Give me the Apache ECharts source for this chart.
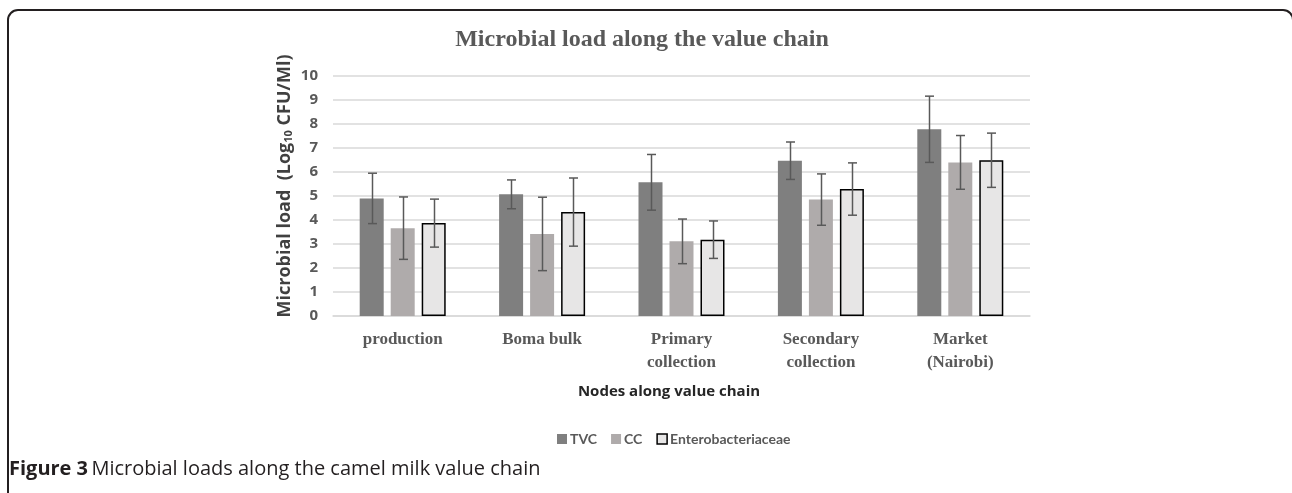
<!DOCTYPE html>
<html>
<head>
<meta charset="utf-8">
<script src="https://cdn.jsdelivr.net/npm/echarts@6/dist/echarts.min.js"></script>
<style>
  html, body { margin: 0; padding: 0; background: #fff; }
  #chart { width: 1292px; height: 493px; }
</style>
</head>
<body>
<div id="chart"></div>
<script>
// nodes along the value chain
const categories = ['production', 'Boma bulk', 'Primary\ncollection', 'Secondary\ncollection', 'Market\n(Nairobi)'];
// means (log10 CFU/ml) and error bar half widths
const tvc = [4.90, 5.07, 5.57, 6.47, 7.78];
const tvcErr = [1.05, 0.60, 1.16, 0.78, 1.38];
const cc = [3.66, 3.42, 3.11, 4.85, 6.40];
const ccErr = [1.30, 1.53, 0.93, 1.07, 1.12];
const ent = [3.87, 4.33, 3.18, 5.29, 6.49];
const entErr = [1.00, 1.42, 0.78, 1.09, 1.13];
const yTicks = [0, 1, 2, 3, 4, 5, 6, 7, 8, 9, 10];

const textGrey = '#595959';
const barW = 24, barGap = 7;

// error bars drawn as a custom series, shifted to sit on each bar
function errSeries(name, vals, errs, offset) {
  return {
    type: 'custom',
    name: name + ' err',
    z: 5,
    silent: true,
    data: vals.map((v, i) => [i, v - errs[i], v + errs[i]]),
    renderItem: function(params, api) {
      const lo = api.coord([api.value(0), api.value(1)]);
      const hi = api.coord([api.value(0), api.value(2)]);
      const x = Math.round(lo[0] + offset) + 0.5;
      const cap = 4.5;
      const st = { stroke: '#595959', lineWidth: 1.5 };
      return {
        type: 'group',
        children: [
          { type: 'line', shape: { x1: x, y1: lo[1], x2: x, y2: hi[1] }, style: st },
          { type: 'line', shape: { x1: x - cap, y1: hi[1], x2: x + cap, y2: hi[1] }, style: st },
          { type: 'line', shape: { x1: x - cap, y1: lo[1], x2: x + cap, y2: lo[1] }, style: st }
        ]
      };
    }
  };
}

const chart = echarts.init(document.getElementById('chart'));
const off = barW + barGap;

chart.setOption({
  animation: false,
  grid: { left: 333, right: 262, top: 76, bottom: 177 },
  legend: {
    left: 552,
    top: 427,
    itemWidth: 10,
    itemHeight: 10,
    itemGap: 14,
    icon: 'rect',
    textStyle: { fontFamily: 'Lato', fontWeight: 'bold', fontSize: 14, color: textGrey, padding: [0, 0, 0, -2] },
    data: [
      { name: 'TVC' },
      { name: 'CC' },
      { name: 'Enterobacteriaceae', itemStyle: { borderColor: '#000', borderWidth: 1.5 } }
    ]
  },
  xAxis: {
    type: 'category',
    data: categories,
    axisLine: { lineStyle: { color: '#d9d9d9', width: 1.5 } },
    axisTick: { show: false },
    axisLabel: {
      margin: 12,
      fontFamily: 'Liberation Serif',
      fontWeight: 'bold',
      fontSize: 17,
      lineHeight: 23,
      color: textGrey
    }
  },
  yAxis: {
    type: 'value',
    min: yTicks[0],
    max: yTicks[yTicks.length - 1],
    interval: 1,
    axisLine: { show: false },
    axisTick: { show: false },
    splitLine: { lineStyle: { color: '#d9d9d9', width: 1.5 } },
    axisLabel: {
      margin: 15,
      fontFamily: 'Open Sans',
      fontWeight: 'bold',
      fontSize: 15,
      color: textGrey
    }
  },
  series: [
    {
      name: 'TVC', type: 'bar', data: tvc, barWidth: barW, barGap: (barGap / barW * 100) + '%',
      itemStyle: { color: '#7f7f7f' }
    },
    {
      name: 'CC', type: 'bar', data: cc, barWidth: barW,
      itemStyle: { color: '#afabab' }
    },
    {
      name: 'Enterobacteriaceae', type: 'bar', data: ent, barWidth: barW,
      itemStyle: { color: '#e7e6e6', borderColor: '#000', borderWidth: 1.5 }
    },
    errSeries('TVC', tvc, tvcErr, -off),
    errSeries('CC', cc, ccErr, 0),
    errSeries('Enterobacteriaceae', ent, entErr, off)
  ],
  graphic: [
    {
      type: 'rect',
      shape: { x: 8, y: 10, width: 1285, height: 600, r: 10 },
      style: { fill: 'none', stroke: '#231f20', lineWidth: 2 },
      silent: true
    },
    {
      type: 'text',
      x: 642, y: 40,
      style: {
        text: 'Microbial load along the value chain',
        font: 'bold 24px "Liberation Serif"',
        fill: textGrey,
        align: 'center',
        verticalAlign: 'middle'
      }
    },
    {
      type: 'text',
      x: 283, y: 186,
      rotation: Math.PI / 2,
      style: {
        text: '{a|Microbial load  (Log}{s|10}{a| CFU/Ml)}',
        align: 'center',
        verticalAlign: 'middle',
        fill: '#404040',
        rich: {
          a: { fontFamily: 'Open Sans', fontWeight: 'bold', fontSize: 18, lineHeight: 22, verticalAlign: 'bottom', fill: '#404040' },
          s: { fontFamily: 'Open Sans', fontWeight: 'bold', fontSize: 11, lineHeight: 22, verticalAlign: 'bottom', padding: [8, 0, 0, 0], fill: '#404040' }
        }
      }
    },
    {
      type: 'text',
      x: 669, y: 392,
      style: {
        text: 'Nodes along value chain',
        font: 'bold 15px "Open Sans"',
        fill: '#262626',
        align: 'center',
        verticalAlign: 'middle'
      }
    },
    {
      type: 'text',
      x: 9, y: 469,
      style: {
        text: '{b|Figure 3} {r|Microbial loads along the camel milk value chain}',
        verticalAlign: 'middle',
        rich: {
          b: { fontFamily: 'Open Sans', fontWeight: 'bold', fontSize: 20, fill: '#231f20' },
          r: { fontFamily: 'Open Sans', fontSize: 20, fill: '#231f20' }
        }
      }
    }
  ]
});
</script>
</body>
</html>
